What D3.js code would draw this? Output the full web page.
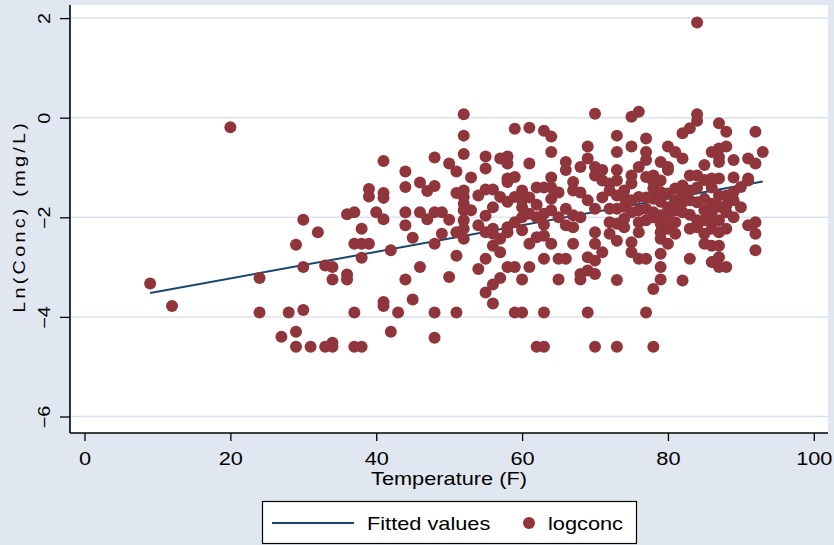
<!DOCTYPE html>
<html>
<head>
<meta charset="utf-8">
<script src="https://cdn.jsdelivr.net/npm/d3@7"></script>
<style>
  html, body { margin: 0; padding: 0; background: #E1E7F0; }
  svg { display: block; }
  text { font-family: "Liberation Sans", Arial, sans-serif; fill: #000; }
</style>
</head>
<body>
<svg id="chart" width="834" height="545"></svg>
<script>
// Temperature (F) of each sample
const temperature = [
  9, 12, 20, 24, 24, 27, 28, 29, 29, 29, 30, 30, 30,
  31, 32, 33, 33, 34, 34, 34, 34, 36, 36, 36, 37, 37, 37, 37, 38, 38, 38, 38, 39, 39, 39, 40,
  41, 41, 41, 41, 41, 41, 42, 42, 43, 44, 44, 44, 44, 44, 45, 45, 46, 46, 46, 47, 47,
  48, 48, 48, 48, 48, 48, 49, 49, 50, 50, 50, 51, 51, 51, 51, 51,
  52, 52, 52, 52, 52, 52, 52, 52, 52, 52,
  53, 53, 54, 54, 54, 55, 55, 55, 55, 55, 55, 55,
  56, 56, 56, 56, 56, 56, 56,
  57, 57, 57, 57, 57,
  58, 58, 58, 58, 58, 58, 58, 58,
  59, 59, 59, 59, 59, 59,
  60, 60, 60, 60, 60, 60, 60,
  61, 61, 61, 61, 61, 61,
  62, 62, 62, 62, 62,
  63, 63, 63, 63, 63, 63, 63, 63,
  64, 64, 64, 64, 64, 64, 64,
  65, 65, 65, 65,
  66, 66, 66, 66, 66,
  67, 67, 67, 67, 67,
  68, 68, 68, 68, 68,
  69, 69, 69, 69, 69, 69,
  70, 70, 70, 70, 70, 70, 70, 70, 70,
  71, 71, 71, 71,
  72, 72, 72, 72, 72,
  73, 73, 73, 73, 73, 73, 73, 73, 73, 73,
  74, 74, 74, 74, 74,
  75, 75, 75, 75, 75, 75, 75, 75,
  76, 76, 76, 76, 76, 76, 76,
  77, 77, 77, 77, 77, 77, 77, 77, 77,
  78, 78, 78, 78, 78, 78, 78, 78,
  79, 79, 79, 79, 79, 79, 79, 79, 79, 79, 79,
  80, 80, 80, 80, 80, 80, 80, 80,
  81, 81, 81, 81, 81, 81,
  82, 82, 82, 82, 82, 82, 82,
  83, 83, 83, 83, 83, 83, 83,
  84, 84, 84, 84, 84, 84, 84, 84,
  85, 85, 85, 85, 85, 85, 85,
  86, 86, 86, 86, 86, 86, 86, 86, 86,
  87, 87, 87, 87, 87, 87, 87, 87, 87, 87, 87, 87,
  88, 88, 88, 88, 88, 88, 88,
  89, 89, 89, 89, 89,
  90, 90,
  91, 91, 91, 91,
  92, 92, 92, 92, 92,
  93
];

// Natural log of concentration (mg/L), same order as temperature
const logconc = [
  -3.33, -3.78, -0.19, -3.22, -3.91, -4.40, -3.91, -2.55, -4.30, -4.60, -2.05, -3.00, -3.86,
  -4.60, -2.30, -2.97, -4.60, -3.00, -3.25, -4.52, -4.60, -3.15, -3.25, -1.94, -1.90, -2.53, -3.91, -4.60, -2.23, -2.53, -2.81, -4.60, -2.53, -1.43, -1.58, -1.90,
  -0.87, -1.51, -1.61, -2.04, -3.70, -3.78, -2.66, -4.30, -3.91, -1.08, -1.39, -1.90, -2.16, -3.25, -2.41, -3.65, -1.30, -1.90, -3.00, -1.47, -2.04,
  -0.80, -1.37, -2.53, -3.91, -4.42, -1.90, -1.90, -2.33, -0.92, -2.05, -3.20, -1.08, -1.51, -2.30, -2.77, -3.91,
  0.07, -0.36, -0.73, -1.46, -1.59, -1.73, -1.86, -2.06, -2.23, -2.43,
  -1.20, -1.86, -1.56, -2.16, -3.04, -0.78, -1.02, -1.44, -1.97, -2.30, -2.83, -3.51,
  -1.44, -1.80, -2.23, -2.33, -2.57, -3.35, -3.73,
  -0.82, -1.59, -2.43, -2.70, -3.22,
  -0.78, -0.92, -1.22, -1.29, -1.69, -2.20, -2.30, -3.00,
  -0.22, -1.19, -1.59, -3.00, -3.91, -2.10,
  -1.46, -1.66, -2.00, -2.26, -3.25, -3.91, -1.80,
  -0.20, -0.92, -1.93, -2.53, -3.00, -1.60,
  -1.40, -2.00, -2.40, -4.60, -1.75,
  -0.26, -1.40, -1.93, -2.37, -2.83, -3.91, -4.60, -2.15,
  -0.38, -0.69, -1.20, -1.40, -1.63, -1.86, -2.53,
  -2.83, -3.25, -1.50, -2.00,
  -0.89, -1.05, -1.83, -2.16, -2.83,
  -1.29, -1.46, -1.96, -2.20, -2.53,
  -0.99, -1.50, -2.00, -3.14, -3.25,
  -0.58, -0.82, -1.66, -2.80, -3.07, -3.91,
  0.08, -0.99, -1.16, -2.30, -2.53, -2.87, -3.14, -4.60, -1.83,
  -1.05, -1.26, -2.70, -1.60,
  -1.32, -1.46, -1.83, -2.33, -2.10,
  -0.36, -0.69, -1.05, -1.26, -1.56, -1.83, -2.13, -2.47, -3.26, -4.60,
  -1.46, -1.79, -2.03, -2.20, -1.60,
  0.02, -0.58, -1.16, -1.32, -1.66, -2.50, -2.70, -1.90,
  0.12, -0.99, -1.59, -1.86, -2.10, -2.83, -2.30,
  -0.42, -0.69, -0.85, -1.19, -1.83, -2.06, -2.83, -3.91, -1.60,
  -1.16, -1.29, -1.42, -1.63, -2.00, -3.44, -4.60, -1.90,
  -0.89, -1.26, -1.49, -1.69, -1.96, -2.13, -2.30, -2.43, -2.73, -3.00, -3.25,
  -0.58, -0.99, -1.05, -1.52, -2.23, -2.53, -1.80, -2.00,
  -0.69, -1.42, -1.66, -1.86, -2.33, -2.10,
  -0.31, -0.82, -1.36, -1.56, -1.90, -3.27, -1.70,
  -0.21, -1.16, -1.46, -1.66, -2.23, -2.83, -1.95,
  1.91, 0.07, -0.06, -1.16, -2.06, -2.20, -1.70, -1.40,
  -0.95, -1.63, -1.86, -2.06, -2.33, -2.53, -1.25,
  -0.69, -1.22, -1.73, -1.90, -2.23, -2.57, -2.90, -2.05, -1.40,
  -0.11, -0.62, -0.79, -0.89, -1.22, -1.56, -1.79, -2.06, -2.30, -2.57, -2.80, -3.00,
  -0.28, -0.58, -1.56, -1.76, -2.23, -3.00, -1.90,
  -0.85, -1.49, -1.66, -2.00, -1.20,
  -1.39, -1.80,
  -0.82, -1.22, -1.26, -2.16,
  -0.28, -0.92, -2.10, -2.33, -2.66,
  -0.69
];

// Linear fit of logconc on temperature, evaluated at the ends of the data range
const fitTemperature = [9, 93];
const fitLogconc = [-3.52, -1.28];

const xTicks = [0, 20, 40, 60, 80, 100];
const yTicks = [-6, -4, -2, 0, 2];

const xTitle = "Temperature (F)";
const yTitle = "Ln(Conc) (mg/L)";
const legendLabels = ["Fitted values", "logconc"];

// ---- drawing ----
const navy = "rgb(26,71,111)";
const maroon = "rgb(144,53,59)";
const gridColor = "#DCE3EE";

const svg = d3.select("#chart");
const plot = { left: 70, right: 828, top: 5, bottom: 433 };

const x = d3.scaleLinear().domain([0, 100]).range([84.5, 813.8]);
const y = d3.scaleLinear().domain([2, -6]).range([18.1, 416.5]);

// page background and white plot region
svg.append("rect").attr("width", 834).attr("height", 545).attr("fill", "#E1E7F0");
svg.append("rect")
  .attr("x", plot.left).attr("y", plot.top)
  .attr("width", plot.right - plot.left).attr("height", plot.bottom - plot.top)
  .attr("fill", "#fff");

// horizontal grid
svg.append("g").selectAll("line").data(yTicks).join("line")
  .attr("x1", plot.left).attr("x2", plot.right)
  .attr("y1", d => y(d)).attr("y2", d => y(d))
  .attr("stroke", gridColor).attr("stroke-width", 1.5);

// x axis
const xAxis = svg.append("g")
  .attr("transform", `translate(0,${plot.bottom})`)
  .call(d3.axisBottom(x).tickValues(xTicks).tickSize(8).tickSizeOuter(0).tickFormat(d3.format("d")));
xAxis.select(".domain").remove();
xAxis.selectAll(".tick line").attr("stroke", "#000").attr("stroke-width", 1.3);
xAxis.selectAll(".tick text")
  .attr("y", 0).attr("dy", null)
  .attr("transform", "translate(0,32) scale(1.17,1)")
  .style("font-size", "18.6px")
  .style("font-family", "'Liberation Sans', Arial, sans-serif");

// y axis
const yAxis = svg.append("g")
  .attr("transform", `translate(${plot.left},0)`)
  .call(d3.axisLeft(y).tickValues(yTicks).tickSize(10).tickSizeOuter(0).tickFormat(d3.format("d")));
yAxis.select(".domain").remove();
yAxis.selectAll(".tick line").attr("stroke", "#000").attr("stroke-width", 1.3);
yAxis.selectAll(".tick text")
  .attr("x", 0).attr("y", 0).attr("dy", null)
  .attr("text-anchor", "middle")
  .attr("transform", "translate(-20,0) rotate(-90) scale(1.2,1)")
  .style("font-size", "16.5px")
  .style("font-family", "'Liberation Sans', Arial, sans-serif");

// axis lines
svg.append("line")
  .attr("x1", plot.left).attr("x2", plot.left)
  .attr("y1", plot.top).attr("y2", plot.bottom)
  .attr("stroke", "#000").attr("stroke-width", 1.6);
svg.append("line")
  .attr("x1", plot.left).attr("x2", plot.right)
  .attr("y1", plot.bottom).attr("y2", plot.bottom)
  .attr("stroke", "#000").attr("stroke-width", 1.6);

// axis titles
svg.append("text")
  .attr("transform", `translate(${(plot.left + plot.right) / 2},485) scale(1.17,1)`)
  .attr("text-anchor", "middle")
  .style("font-size", "18.6px")
  .text(xTitle);
svg.append("text")
  .attr("transform", `translate(25,218) rotate(-90) scale(1.2,1)`)
  .attr("text-anchor", "middle")
  .attr("textLength", 158)
  .attr("lengthAdjust", "spacing")
  .style("font-size", "16.5px")
  .text(yTitle);

// fitted line
const fitData = fitTemperature.map((t, i) => [t, fitLogconc[i]]);
svg.append("path")
  .datum(fitData)
  .attr("d", d3.line().x(d => x(d[0])).y(d => y(d[1])))
  .attr("fill", "none")
  .attr("stroke", navy)
  .attr("stroke-width", 2);

// observations
const points = temperature.map((t, i) => ({ t, v: logconc[i] }));
svg.append("g").selectAll("circle").data(points).join("circle")
  .attr("cx", d => x(d.t))
  .attr("cy", d => y(d.v))
  .attr("r", 6)
  .attr("fill", maroon);

// legend
const legend = svg.append("g");
legend.append("rect")
  .attr("x", 262.5).attr("y", 501.5).attr("width", 374).attr("height", 42)
  .attr("fill", "#fff").attr("stroke", "#000").attr("stroke-width", 1.2);
legend.append("line")
  .attr("x1", 272).attr("x2", 354).attr("y1", 523).attr("y2", 523)
  .attr("stroke", navy).attr("stroke-width", 2);
legend.append("text")
  .attr("transform", "translate(367,530) scale(1.17,1)")
  .style("font-size", "18.6px")
  .text(legendLabels[0]);
legend.append("circle")
  .attr("cx", 529).attr("cy", 523).attr("r", 6)
  .attr("fill", maroon);
legend.append("text")
  .attr("transform", "translate(548,530) scale(1.17,1)")
  .style("font-size", "18.6px")
  .text(legendLabels[1]);
</script>
</body>
</html>
